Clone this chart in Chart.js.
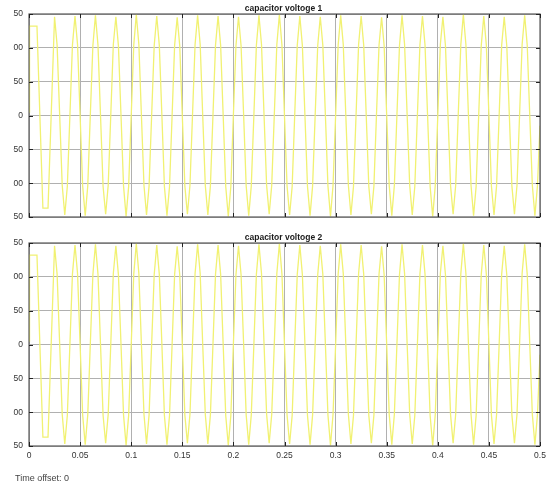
<!DOCTYPE html>
<html>
<head>
<meta charset="utf-8">
<script src="https://cdn.jsdelivr.net/npm/chart.js@4.4.1/dist/chart.umd.min.js"></script>
<style>
  html, body { margin: 0; padding: 0; background: #fff; }
  body { width: 556px; height: 490px; overflow: hidden; position: relative;
         font-family: "Liberation Sans", Arial, sans-serif; }
  canvas { position: absolute; left: 13px; }
  #c1 { top: 0; }
  #c2 { top: 230px; }
  #offset { position: absolute; left: 15px; top: 473px; font-size: 9px; color: #444; }
</style>
</head>
<body>
<canvas id="c1" width="543" height="230"></canvas>
<canvas id="c2" width="543" height="260"></canvas>
<div id="offset">Time offset: 0</div>
<script>
// Scope panel titles
const panelTitles = ['capacitor voltoge 1', 'capacitor voltoge 2'];

// Axis tick labels
const xTickLabels = ['0','0.05','0.1','0.15','0.2','0.25','0.3','0.35','0.4','0.45','0.5'];
const yTickLabels = ['-150','-100','-50','0','50','100','150'];

// Sample times (s)
const timeSec = [
  0,0.0005,0.0078,0.0136,0.0186,
  0.025,0.0275,0.03,0.0325,0.035,0.0375,0.04,0.0425,
  0.045,0.0475,0.05,0.0525,0.055,0.0575,0.06,0.0625,
  0.065,0.0675,0.07,0.0725,0.075,0.0775,0.08,0.0825,
  0.085,0.0875,0.09,0.0925,0.095,0.0975,0.1,0.1025,
  0.105,0.1075,0.11,0.1125,0.115,0.1175,0.12,0.1225,
  0.125,0.1275,0.13,0.1325,0.135,0.1375,0.14,0.1425,
  0.145,0.1475,0.15,0.1525,0.155,0.1575,0.16,0.1625,
  0.165,0.1675,0.17,0.1725,0.175,0.1775,0.18,0.1825,
  0.185,0.1875,0.19,0.1925,0.195,0.1975,0.2,0.2025,
  0.205,0.2075,0.21,0.2125,0.215,0.2175,0.22,0.2225,
  0.225,0.2275,0.23,0.2325,0.235,0.2375,0.24,0.2425,
  0.245,0.2475,0.25,0.2525,0.255,0.2575,0.26,0.2625,
  0.265,0.2675,0.27,0.2725,0.275,0.2775,0.28,0.2825,
  0.285,0.2875,0.29,0.2925,0.295,0.2975,0.3,0.3025,
  0.305,0.3075,0.31,0.3125,0.315,0.3175,0.32,0.3225,
  0.325,0.3275,0.33,0.3325,0.335,0.3375,0.34,0.3425,
  0.345,0.3475,0.35,0.3525,0.355,0.3575,0.36,0.3625,
  0.365,0.3675,0.37,0.3725,0.375,0.3775,0.38,0.3825,
  0.385,0.3875,0.39,0.3925,0.395,0.3975,0.4,0.4025,
  0.405,0.4075,0.41,0.4125,0.415,0.4175,0.42,0.4225,
  0.425,0.4275,0.43,0.4325,0.435,0.4375,0.44,0.4425,
  0.445,0.4475,0.45,0.4525,0.455,0.4575,0.46,0.4625,
  0.465,0.4675,0.47,0.4725,0.475,0.4775,0.48,0.4825,
  0.485,0.4875,0.49,0.4925,0.495,0.4975,0.5
];

// Capacitor voltage (V) at each sample time
const capVoltage1 = [
  5,132,132,-137,-137,
  146,104,1,-103,-147,-105,-1,104,
  147,105,0,-104,-148,-104,1,103,
  148,104,-1,-105,-146,-103,0,105,
  146,103,1,-104,-149,-105,-1,104,
  149,105,0,-103,-147,-104,0,103,
  147,104,1,-105,-148,-105,-1,104,
  145,103,0,-104,-146,-103,1,105,
  148,105,-1,-103,-147,-104,0,104,
  147,104,0,-105,-149,-105,1,103,
  146,103,1,-104,-148,-104,-1,104,
  148,105,0,-103,-146,-103,0,105,
  149,104,-1,-104,-147,-105,1,104,
  147,103,0,-105,-148,-104,0,103,
  146,104,1,-104,-149,-103,-1,104,
  148,105,0,-103,-147,-105,0,105,
  147,104,-1,-105,-146,-104,1,104,
  145,103,0,-104,-148,-103,0,103,
  148,105,1,-103,-147,-105,-1,104,
  147,104,0,-105,-149,-104,0,105,
  146,103,-1,-104,-146,-103,1,104,
  149,105,0,-103,-148,-105,0,103,
  147,104,1,-105,-147,-104,-1,104,
  146,103,0,-104,-146,-103,0,105,
  148,104,-1,-103,-148,-104,-15
];

// Both capacitors carry the same voltage waveform
const capVoltage2 = capVoltage1.slice();

// Scope frame: box, inward tick marks on all sides, and the panel title
const scopeFrame = {
  id: 'scopeFrame',
  afterDraw(chart, args, opts) {
    const { ctx, chartArea: a, scales } = chart;
    ctx.save();
    ctx.strokeStyle = '#5a5a5a';
    ctx.lineWidth = 1.2;
    ctx.strokeRect(a.left, a.top, a.right - a.left, a.bottom - a.top);
    ctx.strokeStyle = '#222';
    ctx.lineWidth = 1;
    ctx.beginPath();
    scales.x.ticks.forEach(t => {
      const px = Math.round(scales.x.getPixelForValue(t.value)) + 0.5;
      ctx.moveTo(px, a.top); ctx.lineTo(px, a.top + 4);
      ctx.moveTo(px, a.bottom); ctx.lineTo(px, a.bottom - 4);
    });
    scales.y.ticks.forEach(t => {
      const py = Math.round(scales.y.getPixelForValue(t.value)) + 0.5;
      ctx.moveTo(a.left, py); ctx.lineTo(a.left + 4, py);
      ctx.moveTo(a.right, py); ctx.lineTo(a.right - 4, py);
    });
    ctx.stroke();
    ctx.fillStyle = '#1a1a1a';
    ctx.font = 'bold 8.5px "Liberation Sans", Arial, sans-serif';
    ctx.textAlign = 'center';
    ctx.textBaseline = 'middle';
    ctx.fillText(opts.text, (a.left + a.right) / 2 - 1, a.top - 5);
    ctx.restore();
  }
};

function makePanel(id, title, values, showX, padTop, padBottom, xHeight) {
  const points = timeSec.map((t, i) => ({ x: t, y: values[i] }));
  return new Chart(document.getElementById(id), {
    type: 'line',
    data: {
      datasets: [{
        data: points,
        borderColor: '#f1f172',
        borderWidth: 1.3,
        pointRadius: 0,
        tension: 0,
        fill: false
      }]
    },
    options: {
      responsive: false,
      animation: false,
      events: [],
      layout: { padding: { top: padTop, bottom: padBottom, right: 16, left: 0 } },
      plugins: {
        legend: { display: false },
        tooltip: { enabled: false },
        title: { display: false },
        scopeFrame: { text: title }
      },
      scales: {
        x: {
          type: 'linear',
          min: 0, max: 0.5,
          afterFit(s) { s.height = xHeight; },
          grid: { color: '#b0b0b0', lineWidth: 1, drawTicks: false },
          border: { display: false },
          ticks: {
            display: showX,
            stepSize: 0.05,
            autoSkip: false,
            maxRotation: 0,
            padding: 5,
            color: '#333',
            font: { size: 8.5, family: '"Liberation Sans", Arial, sans-serif' },
            callback: (v, i) => xTickLabels[i]
          }
        },
        y: {
          min: -150, max: 150,
          afterFit(s) { s.width = 16; },
          grid: { color: '#b0b0b0', lineWidth: 1, drawTicks: false },
          border: { display: false },
          ticks: {
            stepSize: 50,
            padding: 6,
            color: '#333',
            font: { size: 8.5, family: '"Liberation Sans", Arial, sans-serif' },
            callback: (v, i) => yTickLabels[i]
          }
        }
      }
    },
    plugins: [scopeFrame]
  });
}

makePanel('c1', panelTitles[0], capVoltage1, false, 14, 13, 0);
makePanel('c2', panelTitles[1], capVoltage2, true, 13, 22, 22);
</script>
</body>
</html>
